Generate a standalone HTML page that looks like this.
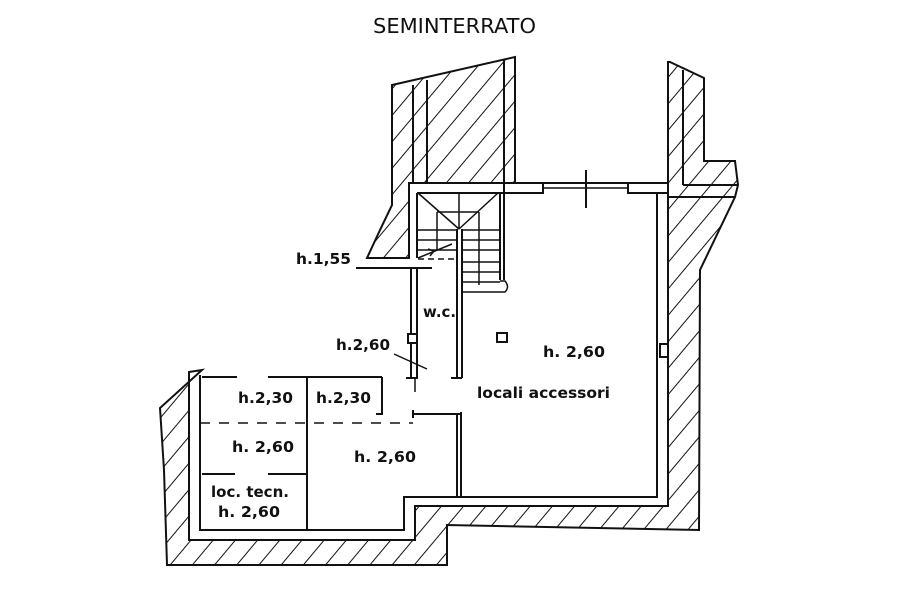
<!DOCTYPE html>
<html><head><meta charset="utf-8"><style>
html,body{margin:0;padding:0;background:#fff;}
svg{display:block;}
text{font-family:"DejaVu Sans","Liberation Sans",sans-serif;fill:#111;}
</style></head><body>
<svg width="900" height="600" viewBox="0 0 900 600" xmlns="http://www.w3.org/2000/svg">
<defs>
<pattern id="h" patternUnits="userSpaceOnUse" width="17" height="17" patternTransform="rotate(40)">
<line x1="0" y1="0" x2="0" y2="17" stroke="#111" stroke-width="2"/>
</pattern>
</defs>
<text x="373" y="33" font-size="20" textLength="163" lengthAdjust="spacingAndGlyphs" font-family="DejaVu Sans Condensed, DejaVu Sans, sans-serif">SEMINTERRATO</text>

<g stroke="#111" stroke-width="2" fill="url(#h)" stroke-linejoin="miter">
<polygon points="392,85 515,57 515,183 409,183 409,258 367,258 380,230 392,205"/>
<polygon points="670,62 704,78 704,161 735,161 738,185 735,197 700,270 699,530 447,525 447,565 167,565 164,470 160,408 202,370 189,372 189,540 415,540 415,506 668,506 668,62"/>
</g>
<g stroke="#111" stroke-width="2" fill="none">
<line x1="413" y1="85" x2="413" y2="183"/>
<line x1="427" y1="80" x2="427" y2="183"/>
<line x1="504" y1="60" x2="504" y2="183"/>
<line x1="683" y1="70" x2="683" y2="185"/>
<line x1="683" y1="185" x2="738" y2="185"/>
<line x1="668" y1="197" x2="735" y2="197"/>
<line x1="409" y1="183" x2="668" y2="183"/>
<line x1="417" y1="193" x2="543" y2="193"/>
<line x1="628" y1="193" x2="657" y2="193"/>
<rect x="504" y="183" width="39" height="10" fill="#fff"/>
<rect x="628" y="183" width="40" height="10" fill="#fff"/>
<line x1="543" y1="188" x2="628" y2="188" stroke-width="1.5"/>
<line x1="586" y1="170" x2="586" y2="208"/>
<polyline points="657,193 657,497 404,497 404,530 200,530 200,375"/>
<line x1="409" y1="183" x2="409" y2="258"/>
<line x1="417" y1="193" x2="417" y2="258"/>
<line x1="500" y1="193" x2="500" y2="280"/>
<line x1="504" y1="193" x2="504" y2="280"/>
<line x1="356" y1="268" x2="432" y2="268"/>
<g stroke-width="1.5">
<line x1="418" y1="193" x2="459" y2="229"/>
<line x1="498" y1="193" x2="459" y2="229"/>
<line x1="437" y1="212" x2="479" y2="212"/>
<line x1="437" y1="212" x2="437" y2="250"/>
<line x1="479" y1="212" x2="479" y2="285"/>
<line x1="459" y1="193" x2="459" y2="229"/>
<line x1="417" y1="230" x2="457" y2="230"/><line x1="417" y1="240" x2="457" y2="240"/><line x1="417" y1="250" x2="457" y2="250"/>
<line x1="462" y1="230" x2="500" y2="230"/><line x1="462" y1="240" x2="500" y2="240"/><line x1="462" y1="250" x2="500" y2="250"/>
<line x1="462" y1="262" x2="500" y2="262"/><line x1="462" y1="272" x2="500" y2="272"/><line x1="462" y1="282" x2="500" y2="282"/>
<path d="M462,292 L505,292 Q510,287 505,281 L500,281"/>
<line x1="418" y1="258" x2="452" y2="244"/>
<polyline points="428,249 434,251 430,256"/>
<line x1="418" y1="259" x2="457" y2="259" stroke-dasharray="6,4"/>
</g>
<line x1="411" y1="268" x2="411" y2="378"/>
<line x1="417" y1="268" x2="417" y2="378"/>
<line x1="457" y1="229" x2="457" y2="378"/>
<line x1="462" y1="229" x2="462" y2="378"/>
<rect x="408" y="334" width="9" height="9" fill="#fff"/>
<line x1="406" y1="378" x2="418" y2="378"/>
<line x1="451" y1="378" x2="462" y2="378"/>
<line x1="415" y1="378" x2="415" y2="392" stroke-width="1.5"/>
<line x1="394" y1="354" x2="427" y2="369" stroke-width="1.5"/>
<rect x="497" y="333" width="10" height="9"/>
<rect x="660" y="344" width="8" height="13" fill="#fff"/>
<line x1="202" y1="377" x2="237" y2="377"/>
<line x1="268" y1="377" x2="382" y2="377"/>
<polyline points="382,377 382,414 376,414"/>
<line x1="307" y1="377" x2="307" y2="530"/>
<line x1="202" y1="474" x2="235" y2="474"/>
<line x1="268" y1="474" x2="307" y2="474"/>
<line x1="413" y1="414" x2="460" y2="414"/>
<line x1="413" y1="410" x2="413" y2="418"/>
<line x1="457" y1="414" x2="457" y2="497"/>
<line x1="461" y1="412" x2="461" y2="497"/>
<line x1="200" y1="423" x2="413" y2="423" stroke-width="1.5" stroke-dasharray="10,9"/>
</g>
<g font-size="15" font-weight="bold">
<text x="296" y="264" textLength="55" lengthAdjust="spacingAndGlyphs">h.1,55</text>
<text x="423" y="317" textLength="33" lengthAdjust="spacingAndGlyphs">w.c.</text>
<text x="336" y="350" textLength="54" lengthAdjust="spacingAndGlyphs">h.2,60</text>
<text x="543" y="357" textLength="62" lengthAdjust="spacingAndGlyphs">h. 2,60</text>
<text x="477" y="398" textLength="133" lengthAdjust="spacingAndGlyphs">locali accessori</text>
<text x="238" y="403" textLength="55" lengthAdjust="spacingAndGlyphs">h.2,30</text>
<text x="316" y="403" textLength="55" lengthAdjust="spacingAndGlyphs">h.2,30</text>
<text x="232" y="452" textLength="62" lengthAdjust="spacingAndGlyphs">h. 2,60</text>
<text x="354" y="462" textLength="62" lengthAdjust="spacingAndGlyphs">h. 2,60</text>
<text x="211" y="497" textLength="78" lengthAdjust="spacingAndGlyphs">loc. tecn.</text>
<text x="218" y="517" textLength="62" lengthAdjust="spacingAndGlyphs">h. 2,60</text>
</g>
</svg>
</body></html>
